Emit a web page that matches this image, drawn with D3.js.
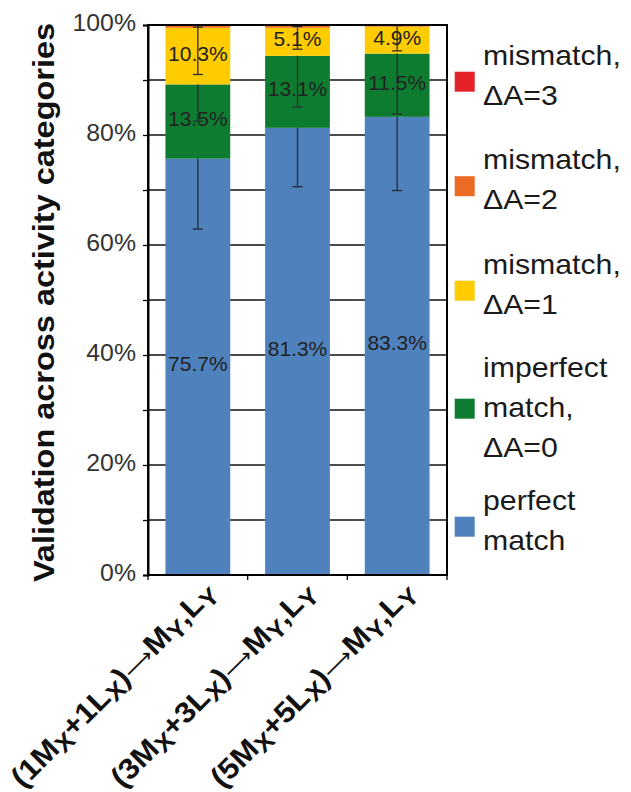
<!DOCTYPE html>
<html>
<head>
<meta charset="utf-8">
<script src="https://cdn.jsdelivr.net/npm/d3@7"></script>
<style>
  html, body { margin: 0; padding: 0; background: #fff; }
  svg { display: block; }
</style>
</head>
<body>
<div id="chart"></div>
<script>
// Category labels; "_X" / "_Y" mark a subscript letter
const categories = ["(1M_X+1L_X)⟶M_Y,L_Y", "(3M_X+3L_X)⟶M_Y,L_Y", "(5M_X+5L_X)⟶M_Y,L_Y"];

// Stacked shares (%) per category, bottom to top
const perfectMatch   = [75.7, 81.3, 83.3];
const imperfectMatch = [13.5, 13.1, 11.5];
const mismatch1      = [10.3, 5.1, 4.9];
const mismatch2      = [0.5, 0.5, 0.3];
const mismatch3      = [0.0, 0.0, 0.0];

// Error bar half-widths (%) per segment
const perfectErr   = [12.8, 10.7, 13.4];
const imperfectErr = [6.7, 9.3, 11.0];
const mismatch1Err = [8.5, 3.9, 4.4];
const mismatch2Err = [0.4, 0.3, 0.1];
const mismatch3Err = [0.0, 0.0, 0.0];

// Series names (legend lines) and colours
const seriesKeys   = ["perfect", "imperfect", "mis1", "mis2", "mis3"];
const seriesLegend = [["perfect", "match"], ["imperfect", "match,", "ΔA=0"], ["mismatch,", "ΔA=1"], ["mismatch,", "ΔA=2"], ["mismatch,", "ΔA=3"]];
const seriesColors = ["#4f81bd", "#0d7c30", "#ffcc00", "#ec6b24", "#e4222a"];
const labelledSeries = ["perfect", "imperfect", "mis1"];

// Axis ticks
const yTicks = [0, 10, 20, 30, 40, 50, 60, 70, 80, 90, 100];
const yTickLabels = ["0%", "", "20%", "", "40%", "", "60%", "", "80%", "", "100%"];
const yTitle = "Validation across activity categories";

const seriesValues = [perfectMatch, imperfectMatch, mismatch1, mismatch2, mismatch3];
const seriesErrors = [perfectErr, imperfectErr, mismatch1Err, mismatch2Err, mismatch3Err];

const W = 631, H = 792;
const plot = { left: 148, right: 447, top: 25, bottom: 575 };

const svg = d3.select("#chart").append("svg")
  .attr("width", W).attr("height", H)
  .style("font-family", "'Liberation Sans', Arial, sans-serif");

svg.append("rect").attr("width", W).attr("height", H).attr("fill", "#fff");

const x = d3.scaleBand().domain(categories)
  .range([plot.left, plot.right]).paddingInner(0.35).paddingOuter(0.175);
const y = d3.scaleLinear().domain([0, 100]).range([plot.bottom, plot.top]);

// rows: one per category with stacked values
const rows = categories.map((c, i) => {
  const r = { cat: c };
  seriesKeys.forEach((k, s) => { r[k] = seriesValues[s][i]; r[k + "Err"] = seriesErrors[s][i]; });
  return r;
});
const stack = d3.stack().keys(seriesKeys)(rows);

svg.append("clipPath").attr("id", "plotClip")
  .append("rect").attr("x", plot.left).attr("y", plot.top)
  .attr("width", plot.right - plot.left).attr("height", plot.bottom - plot.top);

// Gridlines every 10 %
svg.append("g").selectAll("line").data(yTicks).join("line")
  .attr("x1", plot.left).attr("x2", plot.right)
  .attr("y1", d => y(d)).attr("y2", d => y(d))
  .attr("stroke", "#111").attr("stroke-width", 1.3);

// Bars and error bars, series by series so each segment covers the upper whisker below it
const capHalf = 5;
const marks = svg.append("g");
stack.forEach((layer, s) => {
  const g = marks.append("g");
  g.selectAll("rect").data(layer).join("rect")
    .attr("x", d => x(d.data.cat))
    .attr("width", x.bandwidth())
    .attr("y", d => y(d[1]))
    .attr("height", d => Math.max(0, y(d[0]) - y(d[1])))
    .attr("fill", seriesColors[s]);

  const eg = g.append("g").attr("clip-path", "url(#plotClip)")
    .attr("stroke", "#2b2b33").attr("stroke-width", 1.3);
  layer.forEach(d => {
    const e = d.data[layer.key + "Err"];
    if (!(e > 0)) return;
    const cx = x(d.data.cat) + x.bandwidth() / 2;
    const lo = d[1] - e, hi = d[1] + e;
    eg.append("line").attr("x1", cx).attr("x2", cx).attr("y1", y(hi)).attr("y2", y(lo));
    [lo, hi].forEach(v => {
      eg.append("line").attr("x1", cx - capHalf).attr("x2", cx + capHalf)
        .attr("y1", y(v)).attr("y2", y(v));
    });
  });
});

// Value labels centred in the labelled segments
const labels = svg.append("g");
stack.filter(l => labelledSeries.includes(l.key)).forEach(layer => {
  labels.selectAll(null).data(layer).join("text")
    .attr("x", d => x(d.data.cat) + x.bandwidth() / 2)
    .attr("y", d => (y(d[0]) + y(d[1])) / 2 - 3)
    .attr("dy", "0.36em")
    .attr("text-anchor", "middle")
    .attr("font-size", 21)
    .attr("fill", "#222")
    .text(d => d3.format(".1f")(d.data[layer.key]) + "%");
});

// Plot frame
svg.append("rect")
  .attr("x", plot.left).attr("y", plot.top)
  .attr("width", plot.right - plot.left).attr("height", plot.bottom - plot.top)
  .attr("fill", "none").attr("stroke", "#000").attr("stroke-width", 2);

// Y axis
const yAxis = svg.append("g").attr("transform", `translate(${plot.left},0)`)
  .call(d3.axisLeft(y).tickValues(yTicks).tickSize(5).tickPadding(7)
    .tickFormat((d, i) => yTickLabels[i]));
yAxis.select(".domain").attr("stroke", "#000").attr("stroke-width", 2);
yAxis.selectAll(".tick line").attr("stroke", "#000").attr("stroke-width", 1.3);
yAxis.selectAll(".tick text")
  .attr("font-size", 23).attr("fill", "#333")
  .attr("font-family", "'Liberation Sans', Arial, sans-serif")
  .attr("dy", "0.25em")
  .each(function () {
    const len = this.getComputedTextLength();
    if (len > 0) d3.select(this).attr("textLength", len * 1.08).attr("lengthAdjust", "spacingAndGlyphs");
  });

// X axis ticks between categories
const step = x.step();
const bounds = categories.map(c => x(c) - step * x.paddingInner() / 2).concat([plot.right]);
svg.append("g").selectAll("line").data(bounds).join("line")
  .attr("x1", d => d).attr("x2", d => d)
  .attr("y1", plot.bottom).attr("y2", plot.bottom + 5)
  .attr("stroke", "#000").attr("stroke-width", 1.3);

// Rotated category labels with subscripts
categories.forEach(c => {
  const cx = x(c) + x.bandwidth() / 2;
  const t = svg.append("text")
    .attr("text-anchor", "end")
    .attr("font-size", 29).attr("font-weight", "bold").attr("fill", "#111");
  let shifted = false;
  c.split(/(_[XY]|⟶)/).filter(p => p.length).forEach(p => {
    const ts = t.append("tspan");
    if (p[0] === "_") {
      ts.text(p[1]).attr("font-size", 24).attr("dy", shifted ? 0 : 5);
      shifted = true;
    } else {
      ts.text(p).attr("dy", shifted ? -5 : 0);
      shifted = false;
      if (p === "⟶") ts.attr("font-weight", "normal").attr("font-family", "'DejaVu Sans', sans-serif").attr("font-size", 21);
    }
  });
  const len = t.node().getComputedTextLength();
  const sx = 276 / len;
  t.attr("transform", `translate(${cx + 20},${594}) rotate(-45) scale(${sx},1)`);
});

// Y axis title
svg.append("text")
  .attr("transform", `translate(54,${(plot.top + plot.bottom) / 2 + 2.5}) rotate(-90)`)
  .attr("text-anchor", "middle")
  .attr("font-size", 29).attr("font-weight", "bold").attr("fill", "#111")
  .attr("textLength", 559).attr("lengthAdjust", "spacingAndGlyphs")
  .text(yTitle);

// Legend, top entry is the last series
const legendOrder = d3.range(seriesKeys.length).reverse();
const legend = svg.append("g");
let cy = 81.7;
legendOrder.forEach((s, k) => {
  const lines = seriesLegend[s];
  const n = lines.length;
  if (k > 0) {
    const prevN = seriesLegend[legendOrder[k - 1]].length;
    cy += 50.5 + 13.5 * (prevN + n);
  }
  legend.append("rect")
    .attr("x", 454.7).attr("y", cy - 10).attr("width", 20).attr("height", 20)
    .attr("fill", seriesColors[s]);
  const off = n === 3 ? 8.4 : 3;
  lines.forEach((line, j) => {
    const t = legend.append("text")
      .attr("x", 483).attr("y", cy + (j - (n - 1) / 2) * 40 + off)
      .attr("font-size", 28).attr("fill", "#1a1a1a")
      .text(line);
    const len = t.node().getComputedTextLength();
    t.attr("textLength", len * 1.08).attr("lengthAdjust", "spacingAndGlyphs");
  });
});
</script>
</body>
</html>
